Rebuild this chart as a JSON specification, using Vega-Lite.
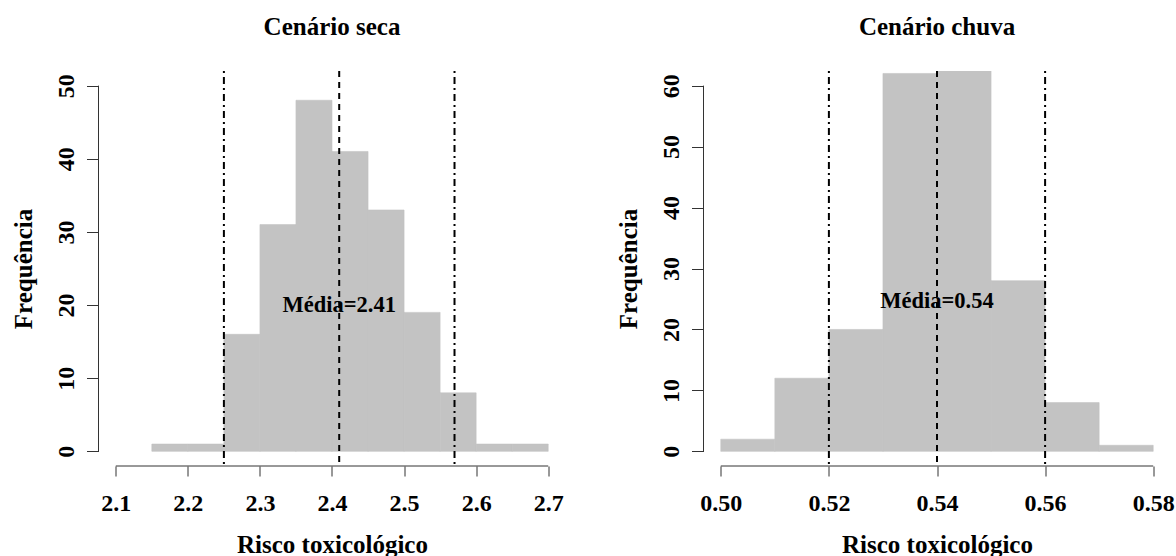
{
  "$schema": "https://vega.github.io/schema/vega-lite/v6.json",
  "padding": {"left": 11.5, "top": 15, "right": 0, "bottom": 0},
  "background": "white",
  "config": {
    "view": {"stroke": null},
    "font": "Liberation Serif",
    "axis": {
      "grid": false,
      "domain": false,
      "labelFont": "Liberation Serif",
      "labelFontWeight": "bold",
      "labelFontSize": 24,
      "labelColor": "black",
      "titleFont": "Liberation Serif",
      "titleFontWeight": "bold",
      "titleFontSize": 25,
      "titleColor": "black",
      "tickColor": "#333333",
      "tickWidth": 1
    },
    "title": {
      "font": "Liberation Serif",
      "fontSize": 25,
      "fontWeight": "bold",
      "color": "black",
      "anchor": "middle",
      "baseline": "alphabetic",
      "offset": 30
    }
  },
  "datasets": {
    "seca_bins": [
      {"bin_start": 2.15, "bin_end": 2.20, "count": 1},
      {"bin_start": 2.20, "bin_end": 2.25, "count": 1},
      {"bin_start": 2.25, "bin_end": 2.30, "count": 16},
      {"bin_start": 2.30, "bin_end": 2.35, "count": 31},
      {"bin_start": 2.35, "bin_end": 2.40, "count": 48},
      {"bin_start": 2.40, "bin_end": 2.45, "count": 41},
      {"bin_start": 2.45, "bin_end": 2.50, "count": 33},
      {"bin_start": 2.50, "bin_end": 2.55, "count": 19},
      {"bin_start": 2.55, "bin_end": 2.60, "count": 8},
      {"bin_start": 2.60, "bin_end": 2.65, "count": 1},
      {"bin_start": 2.65, "bin_end": 2.70, "count": 1}
    ],
    "chuva_bins": [
      {"bin_start": 0.50, "bin_end": 0.51, "count": 2},
      {"bin_start": 0.51, "bin_end": 0.52, "count": 12},
      {"bin_start": 0.52, "bin_end": 0.53, "count": 20},
      {"bin_start": 0.53, "bin_end": 0.54, "count": 62},
      {"bin_start": 0.54, "bin_end": 0.55, "count": 67},
      {"bin_start": 0.55, "bin_end": 0.56, "count": 28},
      {"bin_start": 0.56, "bin_end": 0.57, "count": 8},
      {"bin_start": 0.57, "bin_end": 0.58, "count": 1}
    ],
    "seca_lines": [
      {"value": 2.25, "kind": "quantil"},
      {"value": 2.41, "kind": "media"},
      {"value": 2.57, "kind": "quantil"}
    ],
    "chuva_lines": [
      {"value": 0.52, "kind": "quantil"},
      {"value": 0.54, "kind": "media"},
      {"value": 0.56, "kind": "quantil"}
    ],
    "seca_label": [{"value": 2.41, "freq": 20, "label": "Média=2.41"}],
    "chuva_label": [{"value": 0.54, "freq": 24.6, "label": "Média=0.54"}],
    "one": [{"id": 1}]
  },
  "spacing": 51,
  "hconcat": [
    {
      "width": 467,
      "height": 395,
      "title": {"text": "Cenário seca"},
      "layer": [
        {
          "data": {"name": "seca_bins"},
          "mark": {"type": "bar", "color": "#c3c3c3", "stroke": "#c3c3c3", "strokeWidth": 0.6, "clip": true},
          "encoding": {
            "x": {"field": "bin_start", "type": "quantitative",
              "scale": {"domain": [2.076, 2.724], "nice": false, "zero": false},
              "axis": {"title": "Risco toxicológico", "values": [2.1, 2.2, 2.3, 2.4, 2.5, 2.6, 2.7], "format": ".1f", "tickSize": 10, "labelPadding": 15, "titlePadding": 17, "labelFlush": false, "labelOverlap": false}},
            "x2": {"field": "bin_end"},
            "y": {"field": "count", "type": "quantitative",
              "scale": {"domain": [-2, 52], "nice": false, "zero": false},
              "axis": {"title": "Frequência", "values": [0, 10, 20, 30, 40, 50], "tickSize": 12, "labelAngle": -90, "labelPadding": 8, "titlePadding": 18, "labelFlush": false, "labelOverlap": false}},
            "y2": {"datum": 0}
          }
        },
        {
          "data": {"name": "seca_lines"},
          "mark": {"type": "rule", "strokeWidth": 2, "color": "black"},
          "encoding": {
            "x": {"field": "value", "type": "quantitative"},
            "strokeDash": {"field": "kind", "type": "nominal", "legend": null,
              "scale": {"domain": ["media", "quantil"], "range": [[6, 5], [2, 4, 7, 4]]}}
          }
        },
        {
          "data": {"name": "seca_label"},
          "mark": {"type": "text", "font": "Liberation Serif", "fontWeight": "bold", "fontSize": 22.5, "color": "black", "baseline": "middle", "align": "center"},
          "encoding": {
            "x": {"field": "value", "type": "quantitative"},
            "y": {"field": "freq", "type": "quantitative"},
            "text": {"field": "label"}
          }
        },
        {
          "data": {"name": "one"},
          "mark": {"type": "rule", "color": "#333333", "strokeWidth": 1},
          "encoding": {
            "x": {"datum": 2.1, "type": "quantitative"},
            "x2": {"datum": 2.7},
            "y": {"datum": -2, "type": "quantitative"}
          }
        },
        {
          "data": {"name": "one"},
          "mark": {"type": "rule", "color": "#333333", "strokeWidth": 1},
          "encoding": {
            "x": {"datum": 2.076, "type": "quantitative"},
            "y": {"datum": 0, "type": "quantitative"},
            "y2": {"datum": 50}
          }
        }
      ]
    },
    {
      "width": 467,
      "height": 395,
      "title": {"text": "Cenário chuva"},
      "layer": [
        {
          "data": {"name": "chuva_bins"},
          "mark": {"type": "bar", "color": "#c3c3c3", "stroke": "#c3c3c3", "strokeWidth": 0.6, "clip": true},
          "encoding": {
            "x": {"field": "bin_start", "type": "quantitative",
              "scale": {"domain": [0.4968, 0.5832], "nice": false, "zero": false},
              "axis": {"title": "Risco toxicológico", "values": [0.50, 0.52, 0.54, 0.56, 0.58], "format": ".2f", "tickSize": 10, "labelPadding": 15, "titlePadding": 17, "labelFlush": false, "labelOverlap": false}},
            "x2": {"field": "bin_end"},
            "y": {"field": "count", "type": "quantitative",
              "scale": {"domain": [-2.4, 62.4], "nice": false, "zero": false},
              "axis": {"title": "Frequência", "values": [0, 10, 20, 30, 40, 50, 60], "tickSize": 12, "labelAngle": -90, "labelPadding": 8, "titlePadding": 18, "labelFlush": false, "labelOverlap": false}},
            "y2": {"datum": 0}
          }
        },
        {
          "data": {"name": "chuva_lines"},
          "mark": {"type": "rule", "strokeWidth": 2, "color": "black"},
          "encoding": {
            "x": {"field": "value", "type": "quantitative"},
            "strokeDash": {"field": "kind", "type": "nominal", "legend": null,
              "scale": {"domain": ["media", "quantil"], "range": [[6, 5], [2, 4, 7, 4]]}}
          }
        },
        {
          "data": {"name": "chuva_label"},
          "mark": {"type": "text", "font": "Liberation Serif", "fontWeight": "bold", "fontSize": 22.5, "color": "black", "baseline": "middle", "align": "center"},
          "encoding": {
            "x": {"field": "value", "type": "quantitative"},
            "y": {"field": "freq", "type": "quantitative"},
            "text": {"field": "label"}
          }
        },
        {
          "data": {"name": "one"},
          "mark": {"type": "rule", "color": "#333333", "strokeWidth": 1},
          "encoding": {
            "x": {"datum": 0.50, "type": "quantitative"},
            "x2": {"datum": 0.58},
            "y": {"datum": -2.4, "type": "quantitative"}
          }
        },
        {
          "data": {"name": "one"},
          "mark": {"type": "rule", "color": "#333333", "strokeWidth": 1},
          "encoding": {
            "x": {"datum": 0.4968, "type": "quantitative"},
            "y": {"datum": 0, "type": "quantitative"},
            "y2": {"datum": 60}
          }
        }
      ]
    }
  ]
}
